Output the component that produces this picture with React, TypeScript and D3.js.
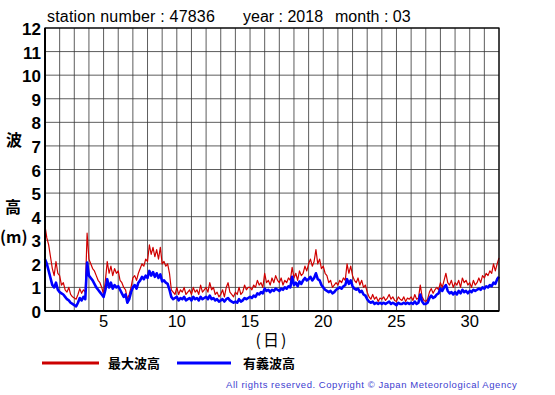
import React from "react";
import * as d3 from "d3";

const perDay = 8;
const maxWave: number[] = [
  3.6, 3.1, 2.8, 2.3, 1.8, 1.5, 2.1, 1.6,
  1.5, 1.1, 1.2, 0.9, 0.8, 1.0, 0.7, 0.6,
  0.55, 0.5, 0.7, 0.95, 0.75, 0.9, 0.8, 3.3,
  2.2, 2.0, 1.8, 1.7, 1.5, 1.3, 1.2, 1.0,
  0.7, 1.3, 2.1, 1.6, 1.9, 1.5, 1.8, 1.6,
  1.7, 1.3, 1.2, 1.0, 0.9, 0.5, 0.7, 1.0,
  1.4, 1.5, 1.3, 1.6, 1.8, 2.0, 1.9, 2.2,
  2.1, 2.8, 2.4, 2.7, 2.3, 2.6, 2.2, 2.7,
  2.0, 2.1, 1.9, 2.0, 1.6, 0.9, 0.8, 0.7,
  1.0, 0.7, 0.9, 0.8, 1.0, 0.7, 0.8, 0.9,
  0.7, 1.0, 0.8, 0.9, 0.7, 1.1, 0.8, 0.9,
  1.0, 0.8, 1.2, 0.9, 1.0, 0.7, 0.8, 0.6,
  0.7, 0.9, 0.6, 1.0, 1.2, 0.8, 0.7, 0.6,
  0.8, 0.7, 1.0, 0.7, 0.8, 1.1, 0.9, 1.0,
  1.0, 0.9, 1.1, 1.0, 1.3, 1.1, 1.2, 1.0,
  1.6, 1.2, 1.3, 1.1, 1.4, 1.2, 1.5, 1.3,
  1.2, 1.4, 1.1, 1.3, 1.2, 1.4, 1.3, 1.85,
  1.4, 1.6, 1.3, 1.7, 1.5, 1.6, 1.9, 1.7,
  2.0, 2.2, 1.9, 2.1, 2.6, 2.0, 2.2, 1.8,
  1.9, 1.6, 1.5, 1.2, 1.3, 1.0, 1.1, 1.2,
  1.1, 1.3, 1.2, 1.4, 1.3, 2.0, 1.6, 1.9,
  1.5, 1.3, 1.2, 1.4, 1.1, 1.3, 1.0, 1.1,
  0.8, 0.6, 0.5, 0.7, 0.5, 0.6, 0.4, 0.55,
  0.5, 0.6, 0.45, 0.55, 0.7, 0.5, 0.6, 0.45,
  0.4, 0.6, 0.5, 0.45, 0.6, 0.4, 0.55, 0.5,
  0.6, 0.45, 0.7, 0.5, 0.55, 1.1, 0.6, 0.45,
  0.4, 0.5, 0.8, 0.95, 0.75, 0.9, 1.0, 0.9,
  1.2, 1.0, 1.3, 1.6, 1.2, 1.1, 1.3, 1.0,
  1.2, 1.1, 1.3, 1.0, 1.4, 1.2, 1.3, 1.1,
  1.2, 1.0, 1.3, 1.1, 1.2, 1.4, 1.2, 1.5,
  1.4, 1.6, 1.5, 1.7, 1.6, 2.0, 1.7, 2.0,
  2.25,
];
const sigWave: number[] = [
  2.2, 2.0, 1.7, 1.4, 1.1, 1.0, 1.2, 0.9,
  0.8, 0.75, 0.7, 0.6, 0.5, 0.45, 0.35, 0.3,
  0.25, 0.2, 0.35, 0.55, 0.45, 0.6, 0.5, 2.05,
  1.5, 1.4, 1.3, 1.15, 1.0, 0.9, 0.8, 0.7,
  0.6, 0.9, 1.35, 1.0, 1.2, 0.95, 1.1, 1.0,
  1.05, 0.9, 0.75, 0.6, 0.7, 0.35, 0.5, 0.8,
  1.0, 1.1, 0.95, 1.2, 1.3, 1.45, 1.35, 1.5,
  1.4, 1.7, 1.5, 1.65, 1.45, 1.6, 1.4, 1.55,
  1.25, 1.3, 1.2, 1.15, 0.9, 0.6, 0.5, 0.55,
  0.6, 0.45, 0.55, 0.5, 0.6, 0.45, 0.5, 0.55,
  0.45, 0.6, 0.5, 0.55, 0.45, 0.6, 0.5, 0.55,
  0.6, 0.5, 0.65, 0.5, 0.55, 0.45, 0.5, 0.4,
  0.45, 0.5, 0.4, 0.5, 0.55, 0.45, 0.4, 0.35,
  0.4, 0.35, 0.5, 0.4, 0.45, 0.55, 0.5, 0.55,
  0.6, 0.55, 0.65, 0.6, 0.75, 0.7, 0.8, 0.75,
  0.95, 0.85, 0.9, 0.8, 0.9, 0.85, 0.95, 0.9,
  0.85, 0.95, 0.9, 1.0, 0.95, 1.05, 1.0, 1.45,
  1.1, 1.2, 1.05, 1.25, 1.15, 1.3, 1.4, 1.3,
  1.35, 1.45, 1.3, 1.4, 1.6, 1.35, 1.3, 1.1,
  1.0, 0.9, 0.85, 0.8, 0.85, 0.75, 0.8, 0.9,
  0.95, 1.0, 0.95, 1.05, 1.1, 1.35, 1.15, 1.3,
  1.05, 0.95, 0.9, 0.95, 0.8, 0.85, 0.7, 0.65,
  0.5, 0.4, 0.35, 0.4, 0.3, 0.35, 0.3, 0.35,
  0.3, 0.35, 0.3, 0.35, 0.4, 0.3, 0.35, 0.3,
  0.25, 0.35, 0.3, 0.3, 0.35, 0.3, 0.35, 0.3,
  0.35, 0.3, 0.4, 0.3, 0.35, 0.7, 0.4, 0.3,
  0.3, 0.35, 0.55, 0.65, 0.55, 0.6, 0.7, 0.75,
  0.95, 0.85, 1.0, 1.1, 0.85, 0.75, 0.8, 0.7,
  0.8, 0.7, 0.85, 0.75, 0.9, 0.8, 0.85, 0.75,
  0.85, 0.8, 0.9, 0.85, 0.9, 0.95, 0.9, 1.0,
  0.95, 1.05, 1.0, 1.1, 1.05, 1.2, 1.15, 1.35,
  1.45,
];
const yTicks = [0, 1, 2, 3, 4, 5, 6, 7, 8, 9, 10, 11, 12];
const xLabels = [5, 10, 15, 20, 25, 30];
const dayGrid = d3.range(1, 33);
const seriesNames = ["最大波高", "有義波高"];
const titleParts = ["station number : 47836", "year : 2018", "month : 03"];

export default function App() {
  const left = 45, right = 499, top = 28, bottom = 311;
  const x = d3.scaleLinear().domain([1, 32]).range([left, right]);
  const y = d3.scaleLinear().domain([0, 12]).range([bottom, top]);
  const line = d3
    .line<number>()
    .x((_, i) => x(1 + i / perDay))
    .y((d) => y(d));
  const font = "Helvetica, Arial, 'Liberation Sans', sans-serif";
  const cjk = "'Noto Sans CJK JP', sans-serif";
  return (
    <svg
      width={555}
      height={395}
      style={{ position: "absolute", left: 0, top: 0, background: "#fff" }}
      fontFamily={font}
    >
      <rect x={0} y={0} width={555} height={395} fill="#fff" />
      <text x={47} y={22} fontSize={16} letterSpacing={0.2}>{titleParts[0]}</text>
      <text x={243} y={22} fontSize={16}>{titleParts[1]}</text>
      <text x={335} y={22} fontSize={16}>{titleParts[2]}</text>
      {dayGrid.map((d) => (
        <line key={"v" + d} x1={x(d)} x2={x(d)} y1={top} y2={bottom} stroke="#333" strokeWidth={0.8} />
      ))}
      {yTicks.map((t) => (
        <line key={"h" + t} x1={left} x2={right} y1={y(t)} y2={y(t)} stroke="#333" strokeWidth={0.8} />
      ))}
      {yTicks.map((t) => (
        <text key={"yl" + t} x={41} y={y(t) + 7} fontSize={17} fontWeight="bold" textAnchor="end">
          {t}
        </text>
      ))}
      {xLabels.map((t) => (
        <text key={"xl" + t} x={x(t)} y={327} fontSize={16.5} textAnchor="middle">
          {t}
        </text>
      ))}
      <text x={272} y={346} fontSize={16} textAnchor="middle" letterSpacing={2} fontFamily={cjk}>(日)</text>
      <text x={14} y={146} fontSize={16} fontWeight="bold" textAnchor="middle" fontFamily={cjk}>波</text>
      <text x={13} y={213} fontSize={16} fontWeight="bold" textAnchor="middle" fontFamily={cjk}>高</text>
      <text x={0} y={243} fontSize={16} fontWeight="bold" fontFamily={cjk}>(m)</text>
      <path d={line(maxWave) || ""} fill="none" stroke="#d00000" strokeWidth={1.2} strokeLinejoin="round" />
      <path d={line(sigWave) || ""} fill="none" stroke="#0000ff" strokeWidth={2.6} strokeLinejoin="round" />
      <rect x={left} y={top} width={right - left} height={bottom - top} fill="none" stroke="#000" strokeWidth={1.2} />
      <line x1={left} x2={left} y1={top} y2={bottom} stroke="#000" strokeWidth={2} />
      <line x1={left} x2={right} y1={bottom} y2={bottom} stroke="#000" strokeWidth={2} />
      <line x1={42} x2={99} y1={363} y2={363} stroke="#cc0000" strokeWidth={3} />
      <text x={108} y={368} fontSize={13} fontWeight="bold" fontFamily={cjk}>{seriesNames[0]}</text>
      <line x1={177} x2={231} y1={363} y2={363} stroke="#0000ff" strokeWidth={3} />
      <text x={243} y={368} fontSize={13} fontWeight="bold" fontFamily={cjk}>{seriesNames[1]}</text>
      <text x={226} y={388} fontSize={9.5} fill="#4040d0" letterSpacing={0.55}>
        All rights reserved. Copyright © Japan Meteorological Agency
      </text>
    </svg>
  );
}
